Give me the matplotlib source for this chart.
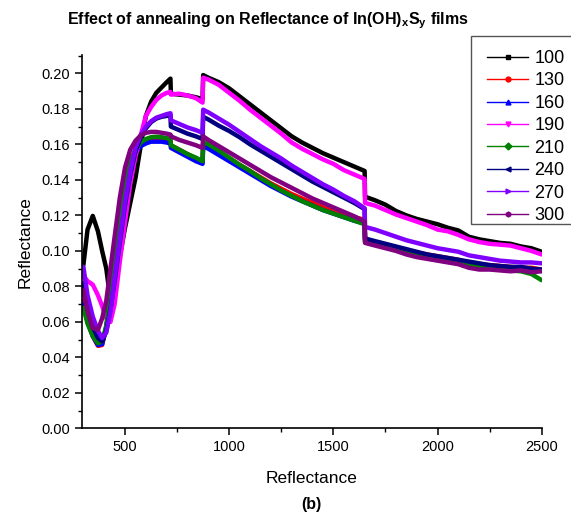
import matplotlib
matplotlib.use("Agg")
import matplotlib.pyplot as plt
from matplotlib.lines import Line2D
from matplotlib.patches import Rectangle
from matplotlib.ticker import MultipleLocator, FormatStrFormatter

plt.rcParams['font.family'] = ['Liberation Sans', 'DejaVu Sans']
plt.rcParams['mathtext.fontset'] = 'custom'
plt.rcParams['mathtext.rm'] = 'Liberation Sans'
plt.rcParams['mathtext.bf'] = 'Liberation Sans:bold'
plt.rcParams['mathtext.it'] = 'Liberation Sans:italic'

wavelength = [300, 320, 345, 370, 390, 410, 430, 450, 475, 500, 525, 550, 575, 600, 625, 650, 675, 700, 718,
              720, 760, 800, 840, 872, 875, 900, 950, 1000, 1050, 1100, 1150, 1200, 1250, 1300, 1350, 1400,
              1450, 1500, 1550, 1600, 1650, 1652, 1700, 1750, 1800, 1850, 1900, 1950, 2000, 2050, 2100,
              2150, 2200, 2250, 2300, 2350, 2400, 2450, 2500]

r100 = [0.092, 0.112, 0.1197, 0.111, 0.100, 0.090, 0.072, 0.080, 0.097, 0.113, 0.127, 0.141, 0.159, 0.176, 0.184,
        0.189, 0.192, 0.195, 0.197, 0.1885, 0.188, 0.1875, 0.1865, 0.1855, 0.199, 0.1975, 0.195, 0.1915, 0.187,
        0.1825, 0.178, 0.1735, 0.169, 0.1645, 0.161, 0.158, 0.155, 0.1525, 0.150, 0.1475, 0.145, 0.1305, 0.1285,
        0.126, 0.1225, 0.120, 0.118, 0.1165, 0.115, 0.113, 0.1115, 0.108, 0.1065, 0.1055, 0.1045, 0.104, 0.1025,
        0.1015, 0.0995]
r130 = [0.072, 0.061, 0.052, 0.0465, 0.047, 0.057, 0.075, 0.094, 0.118, 0.137, 0.150, 0.157, 0.1605, 0.162, 0.163,
        0.163, 0.163, 0.1625, 0.162, 0.1595, 0.157, 0.1545, 0.152, 0.150, 0.1605, 0.159, 0.1555, 0.152, 0.1485,
        0.145, 0.1415, 0.138, 0.135, 0.132, 0.1295, 0.127, 0.1245, 0.1225, 0.1205, 0.119, 0.1175, 0.1065, 0.105,
        0.1035, 0.102, 0.1005, 0.099, 0.098, 0.097, 0.096, 0.095, 0.0935, 0.0925, 0.092, 0.0915, 0.091, 0.0905,
        0.0905, 0.0895]
r160 = [0.070, 0.060, 0.052, 0.047, 0.0475, 0.057, 0.074, 0.093, 0.116, 0.135, 0.148, 0.155, 0.159, 0.1605, 0.1615,
        0.1615, 0.1615, 0.161, 0.1605, 0.158, 0.1555, 0.153, 0.1505, 0.149, 0.159, 0.1575, 0.154, 0.1505, 0.147,
        0.1435, 0.140, 0.1365, 0.1335, 0.1305, 0.128, 0.1255, 0.123, 0.121, 0.119, 0.117, 0.1155, 0.1055, 0.104,
        0.1025, 0.101, 0.0995, 0.098, 0.097, 0.096, 0.095, 0.094, 0.0925, 0.0915, 0.091, 0.0905, 0.090, 0.0895,
        0.0895, 0.089]
r190 = [0.086, 0.083, 0.081, 0.075, 0.069, 0.062, 0.060, 0.070, 0.094, 0.116, 0.138, 0.153, 0.165, 0.176, 0.181,
        0.185, 0.1875, 0.189, 0.1895, 0.188, 0.1885, 0.1875, 0.186, 0.1835, 0.1975, 0.1965, 0.1935, 0.189, 0.1845,
        0.1795, 0.175, 0.1705, 0.166, 0.161, 0.1575, 0.1545, 0.1515, 0.149, 0.1455, 0.143, 0.1405, 0.127, 0.1255,
        0.123, 0.1205, 0.1185, 0.1165, 0.1145, 0.112, 0.111, 0.109, 0.1065, 0.105, 0.104, 0.1035, 0.103, 0.1015,
        0.100, 0.098]
r210 = [0.068, 0.059, 0.052, 0.048, 0.049, 0.058, 0.075, 0.094, 0.117, 0.136, 0.150, 0.157, 0.161, 0.163, 0.164,
        0.1643, 0.164, 0.1635, 0.163, 0.1595, 0.157, 0.1545, 0.1525, 0.1505, 0.1615, 0.160, 0.1565, 0.1525, 0.1485,
        0.145, 0.141, 0.1375, 0.134, 0.131, 0.128, 0.1255, 0.123, 0.121, 0.119, 0.117, 0.115, 0.105, 0.1035,
        0.102, 0.1005, 0.099, 0.0975, 0.0965, 0.0955, 0.0945, 0.0935, 0.0925, 0.091, 0.0905, 0.090, 0.089, 0.0885,
        0.087, 0.0835]
r240 = [0.082, 0.068, 0.057, 0.051, 0.049, 0.055, 0.067, 0.083, 0.105, 0.126, 0.143, 0.156, 0.164, 0.169, 0.1725,
        0.1745, 0.1755, 0.176, 0.1765, 0.170, 0.168, 0.166, 0.1645, 0.163, 0.1755, 0.174, 0.1705, 0.1675, 0.164,
        0.160, 0.1565, 0.153, 0.1495, 0.146, 0.1425, 0.139, 0.136, 0.133, 0.130, 0.127, 0.1235, 0.107, 0.1055,
        0.104, 0.1025, 0.101, 0.0995, 0.098, 0.097, 0.096, 0.095, 0.094, 0.093, 0.092, 0.0915, 0.091, 0.091,
        0.090, 0.0895]
r270 = [0.091, 0.075, 0.063, 0.055, 0.051, 0.054, 0.066, 0.085, 0.107, 0.128, 0.145, 0.158, 0.165, 0.170, 0.173,
        0.175, 0.176, 0.177, 0.1775, 0.1735, 0.1715, 0.1695, 0.168, 0.1665, 0.1795, 0.178, 0.1745, 0.171, 0.167,
        0.163, 0.159, 0.1555, 0.152, 0.148, 0.1445, 0.141, 0.1375, 0.1345, 0.131, 0.128, 0.124, 0.1135, 0.112,
        0.110, 0.108, 0.106, 0.1045, 0.103, 0.1015, 0.1005, 0.0995, 0.0975, 0.0965, 0.0955, 0.0945, 0.094, 0.0935,
        0.0935, 0.093]
r300 = [0.078, 0.066, 0.0565, 0.0555, 0.062, 0.072, 0.090, 0.108, 0.130, 0.147, 0.157, 0.162, 0.165, 0.1665, 0.167,
        0.167, 0.1665, 0.166, 0.1655, 0.1645, 0.1625, 0.161, 0.1595, 0.158, 0.1645, 0.1625, 0.159, 0.1555, 0.152,
        0.1485, 0.145, 0.1415, 0.1385, 0.1355, 0.1325, 0.1295, 0.127, 0.1245, 0.122, 0.1195, 0.1165, 0.1045, 0.103,
        0.1015, 0.100, 0.098, 0.0965, 0.0955, 0.0945, 0.0935, 0.0925, 0.0905, 0.0895, 0.0895, 0.089, 0.0885, 0.089,
        0.088, 0.0885]

labels = ['100', '130', '160', '190', '210', '240', '270', '300']
series = [r100, r130, r160, r190, r210, r240, r270, r300]
colors = ['#000000', '#FF0000', '#0000FF', '#FF00FF', '#008000', '#000080', '#8000FF', '#800080']
markers = ['s', 'o', '^', 'v', 'D', '<', '>', 'h']

W, H = 571, 515
fig = plt.figure(figsize=(W / 100, H / 100), dpi=100)
ax = fig.add_axes([0.1431, 0.168, 0.8056, 0.7252])

for ys, c in zip(series, colors):
    ax.plot(wavelength, ys, color=c, lw=3.2, solid_joinstyle='round', solid_capstyle='round')

ax.set_xlim(292, 2500)
ax.set_ylim(0, 0.2103)
ax.xaxis.set_major_locator(MultipleLocator(500))
ax.xaxis.set_minor_locator(MultipleLocator(250))
ax.yaxis.set_major_locator(MultipleLocator(0.02))
ax.yaxis.set_minor_locator(MultipleLocator(0.01))
ax.yaxis.set_major_formatter(FormatStrFormatter('%.2f'))
ax.tick_params(which='major', direction='out', length=5, width=1.1, labelsize=10.5)
ax.tick_params(which='minor', direction='out', length=3, width=1.0)
for s in ['top', 'right']:
    ax.spines[s].set_visible(False)
for s in ['left', 'bottom']:
    ax.spines[s].set_linewidth(1.2)

ax.set_xlabel('Reflectance', fontsize=12.5, labelpad=12)
ax.set_ylabel('Reflectance', fontsize=12.5, labelpad=6)

fig.text(268 / W, 1 - 24 / H, r'Effect of annealing on Reflectance of In(OH)$_\mathbf{x}$S$_\mathbf{y}$ films',
         ha='center', va='baseline', fontsize=11.5, fontweight='bold')
fig.text(0.5 * (0.1431 + 0.9487), 1 - 505 / H, '(b)', ha='center', va='center', fontsize=11.5, fontweight='bold')

# legend frame running off the right edge, as in the reference
frame = Rectangle((470.7 / W, 1 - 224 / H), (580 - 470.7) / W, (224 - 36) / H, transform=fig.transFigure,
                  facecolor='white', edgecolor='#555555', lw=1.0, zorder=5)
fig.add_artist(frame)

handles = [Line2D([0], [0], color=c, lw=1.0, marker=m, markersize=3.5) for c, m in zip(colors, markers)]
leg = fig.legend(handles, labels, loc='upper left', bbox_to_anchor=(487 / W, 1 - 50 / H),
                 fontsize=13, frameon=False, handlelength=2.28, handletextpad=0.33,
                 labelspacing=0.3, borderpad=0, borderaxespad=0)
leg.set_zorder(6)

fig.savefig('out.png', dpi=100)
